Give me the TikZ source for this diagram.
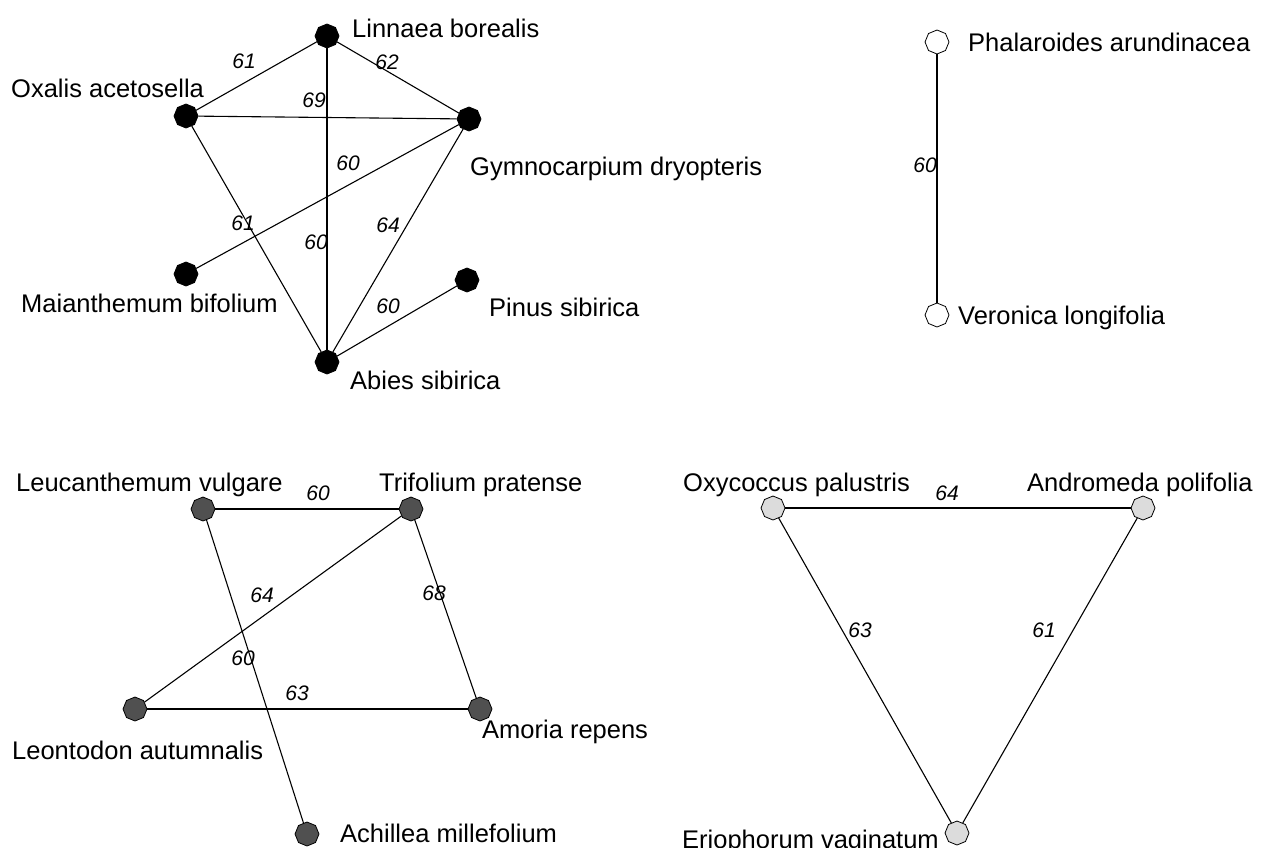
\documentclass[tikz,border=0pt]{standalone}
\usepackage{fontspec}
\setmainfont{Liberation Sans}
\usetikzlibrary{shapes.geometric}
\definecolor{darkfill}{HTML}{505050}
\definecolor{lightfill}{HTML}{DCDCDC}
\tikzset{
  vert/.style={regular polygon, regular polygon sides=8, shape border rotate=22.5,
    minimum size=24pt, inner sep=0pt, draw=black, line width=0.8pt},
  blackv/.style={vert, fill=black},
  darkv/.style={vert, fill=darkfill},
  lightv/.style={vert, fill=lightfill},
  whitev/.style={vert, fill=white},
  vname/.style={anchor=base west, inner sep=0pt, font=\fontsize{25.5}{30}\selectfont},
  elab/.style={inner sep=0pt, font=\fontsize{21}{25}\selectfont\itshape},
  link/.style={line width=1.1pt, black}
}
\begin{document}
\begin{tikzpicture}[x=1pt, y=-1pt]
\useasboundingbox (0,0) rectangle (1263,847);

% first component
\node[blackv] (lin) at (327,36) {};
\node[blackv] (oxa) at (186,116) {};
\node[blackv] (gym) at (469,119) {};
\node[blackv] (mai) at (186,274) {};
\node[blackv] (pin) at (467,280) {};
\node[blackv] (abi) at (327,362) {};
\draw[link] (oxa) -- (lin);
\draw[link] (lin) -- (gym);
\draw[link] (oxa) -- (gym);
\draw[link] (mai) -- (gym);
\draw[link] (oxa) -- (abi);
\draw[link] (lin) -- (abi);
\draw[link] (gym) -- (abi);
\draw[link] (abi) -- (pin);
\node[vname] (tlin) at (352,37) {Linnaea borealis};
\node[vname] (toxa) at (11,97) {Oxalis acetosella};
\node[vname] (tgym) at (470,175) {Gymnocarpium dryopteris};
\node[vname] (tmai) at (21,312) {Maianthemum bifolium};
\node[vname] (tpin) at (489,316) {Pinus sibirica};
\node[vname] (tabi) at (350,389) {Abies sibirica};
\node[elab] (e1) at (244,61) {61};
\node[elab] (e2) at (387,62) {62};
\node[elab] (e3) at (314,100) {69};
\node[elab] (e4) at (348,163) {60};
\node[elab] (e5) at (243,223) {61};
\node[elab] (e6) at (316,242) {60};
\node[elab] (e7) at (388,225) {64};
\node[elab] (e8) at (388,306) {60};

% second component
\node[whitev] (pha) at (937,42) {};
\node[whitev] (ver) at (937,315) {};
\draw[link] (pha) -- (ver);
\node[vname] (tpha) at (968,51) {Phalaroides arundinacea};
\node[vname] (tver) at (958,324) {Veronica longifolia};
\node[elab] (e9) at (925,165) {60};

% third component
\node[darkv] (leu) at (203,509) {};
\node[darkv] (tri) at (411,509) {};
\node[darkv] (leo) at (135,709) {};
\node[darkv] (amo) at (480,709) {};
\node[darkv] (ach) at (307,834) {};
\draw[link] (leu) -- (tri);
\draw[link] (tri) -- (leo);
\draw[link] (tri) -- (amo);
\draw[link] (leu) -- (ach);
\draw[link] (leo) -- (amo);
\node[vname] (tleu) at (16,491) {Leucanthemum vulgare};
\node[vname] (ttri) at (379,491) {Trifolium pratense};
\node[vname] (tleo) at (12,759) {Leontodon autumnalis};
\node[vname] (tamo) at (482,738) {Amoria repens};
\node[vname] (tach) at (340,842) {Achillea millefolium};
\node[elab] (e10) at (318,493) {60};
\node[elab] (e11) at (262,595) {64};
\node[elab] (e12) at (434,593) {68};
\node[elab] (e13) at (243,658) {60};
\node[elab] (e14) at (297,693) {63};

% fourth component
\node[lightv] (oxy) at (773,508) {};
\node[lightv] (and) at (1143,508) {};
\node[lightv] (eri) at (957,833) {};
\draw[link] (oxy) -- (and);
\draw[link] (oxy) -- (eri);
\draw[link] (and) -- (eri);
\node[vname] (toxy) at (683,491) {Oxycoccus palustris};
\node[vname] (tand) at (1027,491) {Andromeda polifolia};
\node[vname] (teri) at (682,848) {Eriophorum vaginatum};
\node[elab] (e15) at (947,493) {64};
\node[elab] (e16) at (860,630) {63};
\node[elab] (e17) at (1044,630) {61};
\end{tikzpicture}
\end{document}
